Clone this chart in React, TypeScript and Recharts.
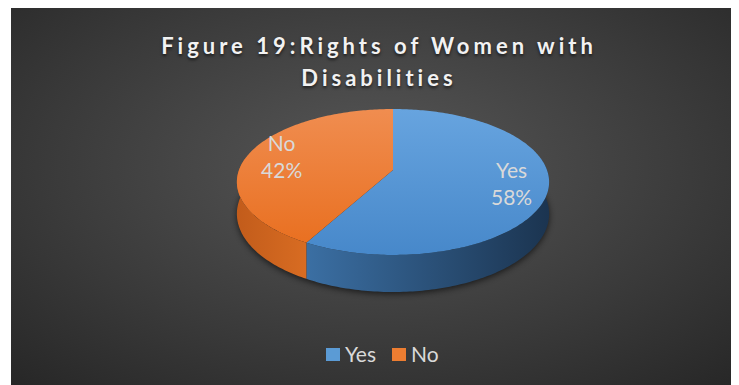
import React from 'react';
import { PieChart, Pie, Cell, Legend } from 'recharts';

const categories = ['Yes', 'No'];
const values = [58, 42];
const colors = ['#5B9BD5', '#ED7D31'];
const titleLines = ['Figure 19:Rights of Women with', 'Disabilities'];

const data = categories.map((name, i) => ({ name, value: values[i] }));

const W = 728;
const H = 377;
const CX = 382;
const CY = 162;
const R = 154;
const K = 71 / 154;
const P = 0.164;
const DEPTH = 31;

const topGrad = [
  ['#67a4df', '#4788ca'],
  ['#f08d50', '#e97021'],
];
const wallGrad = [
  ['#3b6fa3', '#1b3450'],
  ['#c25c1b', '#d86c22'],
];

function proj(cx: number, cy: number, r: number, deg: number, f = 1) {
  const a = (deg * Math.PI) / 180;
  const X = f * Math.cos(a);
  const Y = f * Math.sin(a);
  const w = 1 + P * Y;
  return { x: cx + (r * X) / w, y: cy - (r * K * Y) / w, w };
}

function arc(cx: number, cy: number, r: number, from: number, to: number, drop: boolean) {
  const pts: string[] = [];
  const n = Math.max(2, Math.ceil(Math.abs(to - from)));
  for (let i = 0; i <= n; i++) {
    const d = from + ((to - from) * i) / n;
    const p = proj(cx, cy, r, d);
    const y = drop ? p.y + (DEPTH * r) / R / p.w : p.y;
    pts.push(`${p.x.toFixed(2)},${y.toFixed(2)}`);
  }
  return pts;
}

function renderSlice(props: any) {
  const { cx, cy, outerRadius, startAngle, endAngle, midAngle, percent, name } = props;
  const idx = typeof props.index === 'number' ? props.index : categories.indexOf(name);
  const r = outerRadius;
  const s = Math.max(startAngle, endAngle);
  const e = Math.min(startAngle, endAngle);
  const hi = Math.min(s, 10);
  const lo = Math.max(e, -190);
  let wall: string | null = null;
  if (lo < hi) {
    const top = arc(cx, cy, r, hi, lo, false);
    const bot = arc(cx, cy, r, lo, hi, true);
    wall = 'M' + top.join(' L') + ' L' + bot.join(' L') + ' Z';
  }
  const topPts = arc(cx, cy, r, s, e, false);
  const face = `M${cx},${cy} L` + topPts.join(' L') + ' Z';
  const lp = proj(cx, cy, r, midAngle, 0.77);
  let shadow: string | null = null;
  if (idx === 0) {
    const b = arc(cx, cy, r, 0, 360, true);
    shadow = 'M' + b.join(' L') + ' Z';
  }
  return (
    <g key={`slice-${idx}`}>
      <defs>
        <linearGradient id={`tg${idx}`} x1="0" y1="0" x2="0" y2="1">
          <stop offset="0%" stopColor={topGrad[idx][0]} />
          <stop offset="100%" stopColor={topGrad[idx][1]} />
        </linearGradient>
        <linearGradient id={`wg${idx}`} x1="0" y1="0" x2="1" y2="0">
          <stop offset="0%" stopColor={wallGrad[idx][0]} />
          <stop offset="100%" stopColor={wallGrad[idx][1]} />
        </linearGradient>
        <filter id={`sh${idx}`} x="-20%" y="-20%" width="140%" height="140%">
          <feGaussianBlur stdDeviation="3" />
        </filter>
      </defs>
      {shadow && (
        <path d={shadow} fill="#000" opacity={0.6} transform="translate(0,2)" filter={`url(#sh${idx})`} />
      )}
      {wall && <path d={wall} fill={`url(#wg${idx})`} stroke="none" />}
      <path d={face} fill={`url(#tg${idx})`} stroke="none" />
      <text
        x={lp.x}
        y={lp.y - 6}
        textAnchor="middle"
        fill="#d9d9d9"
        style={{ fontFamily: 'Lato', fontSize: 21 }}
      >
        {name}
      </text>
      <text
        x={lp.x}
        y={lp.y + 21}
        textAnchor="middle"
        fill="#d9d9d9"
        style={{ fontFamily: 'Lato', fontSize: 21 }}
      >
        {`${Math.round(percent * 100)}%`}
      </text>
    </g>
  );
}

function renderLegend() {
  return (
    <div style={{ display: 'flex', alignItems: 'center', paddingLeft: 315, fontFamily: 'Lato', fontSize: 21, color: '#d9d9d9' }}>
      {categories.map((c, i) => (
        <div key={c} style={{ display: 'flex', alignItems: 'center', marginRight: 16 }}>
          <div style={{ width: 14, height: 13, background: colors[i], marginRight: 5 }} />
          <span style={{ lineHeight: '20px' }}>{c}</span>
        </div>
      ))}
    </div>
  );
}

export default function App() {
  return (
    <div
      style={{
        position: 'relative',
        width: W,
        height: H,
        marginLeft: 3,
        background: 'radial-gradient(ellipse 75% 80% at 50% 42%, #575757 0%, #3a3a3a 60%, #262626 100%)',
        overflow: 'hidden',
      }}
    >
      <div
        style={{
          position: 'absolute',
          top: 22,
          left: 0,
          width: W,
          paddingLeft: 8,
          boxSizing: 'border-box',
          textAlign: 'center',
          fontFamily: 'Lato',
          fontWeight: 700,
          fontSize: 22,
          letterSpacing: 4,
          color: '#f2f2f2',
          textShadow: '0 2px 3px rgba(0,0,0,0.6)',
          zIndex: 2,
        }}
      >
        {titleLines.map((t) => (
          <div key={t} style={{ lineHeight: '32px' }}>
            {t}
          </div>
        ))}
      </div>
      <PieChart width={W} height={H} margin={{ top: 0, right: 0, bottom: 0, left: 0 }}>
        <Pie
          data={data}
          dataKey="value"
          nameKey="name"
          cx={CX}
          cy={CY}
          outerRadius={R}
          startAngle={90}
          endAngle={-270}
          isAnimationActive={false}
          labelLine={false}
          label={renderSlice}
          stroke="none"
        >
          {data.map((d, i) => (
            <Cell key={d.name} fill="transparent" stroke="none" />
          ))}
        </Pie>
        <Legend
          content={renderLegend}
          wrapperStyle={{ position: 'absolute', top: 336, left: 0, width: W, bottom: 'auto' }}
        />
      </PieChart>
    </div>
  );
}
